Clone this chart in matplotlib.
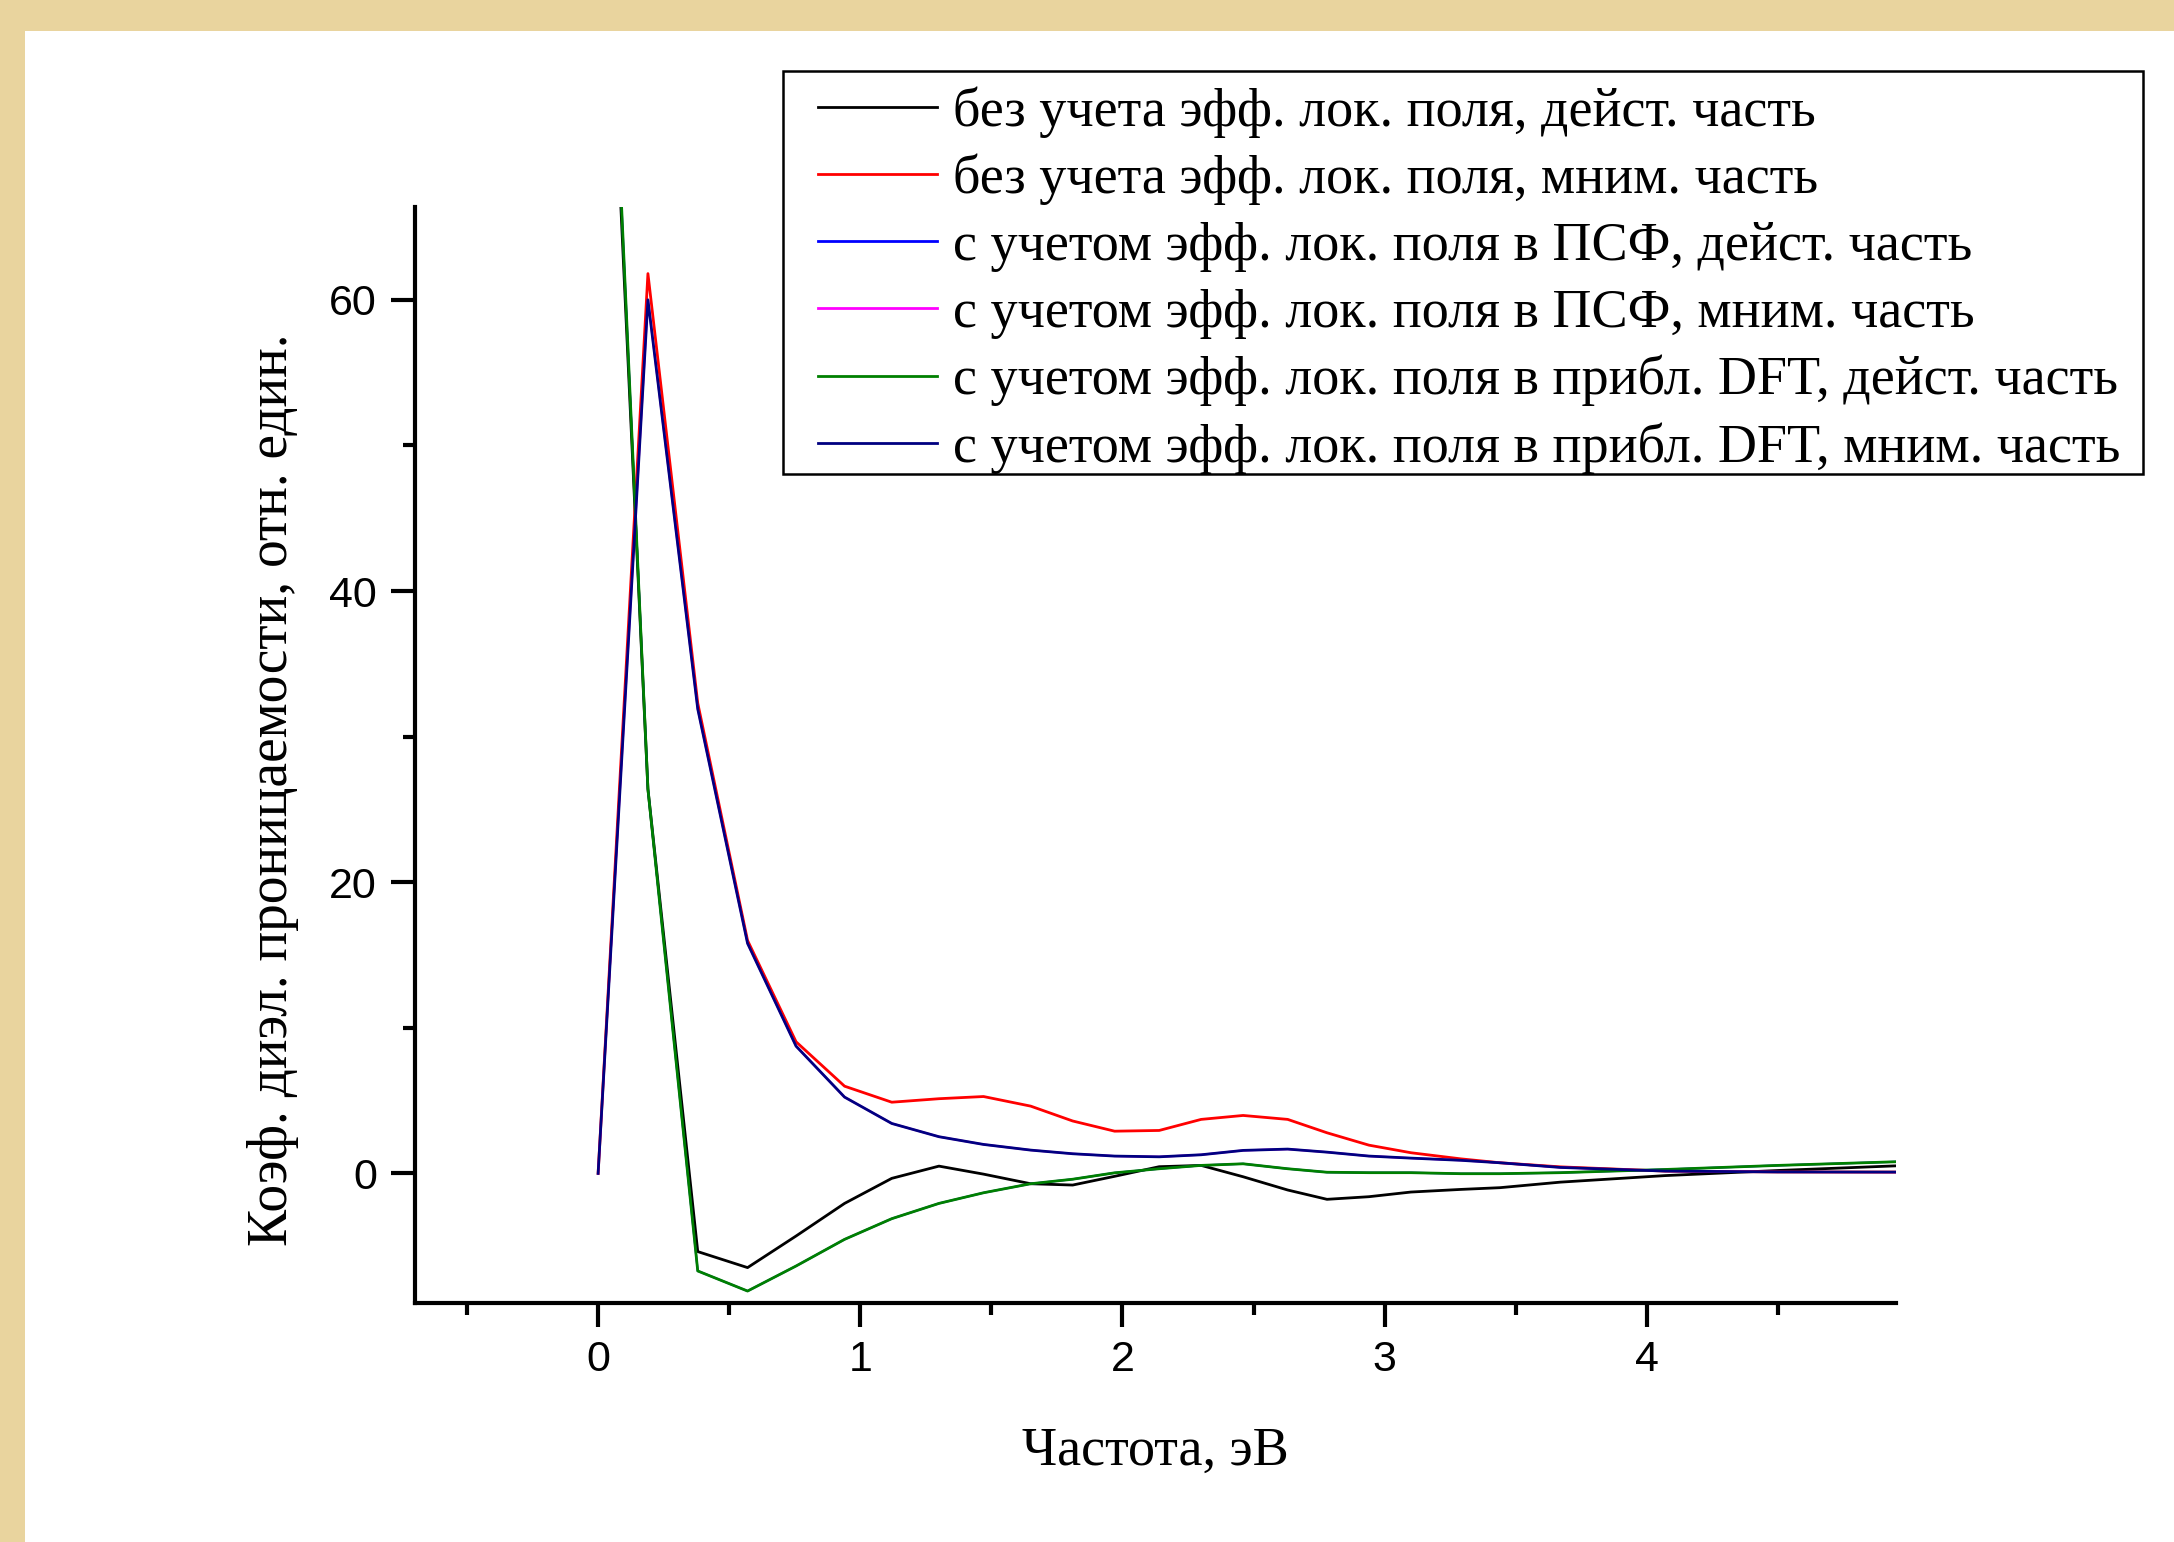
import matplotlib
matplotlib.use('Agg')
import matplotlib.pyplot as plt
from matplotlib.patches import Rectangle
from matplotlib.ticker import MultipleLocator

# frequency grid, eV
freq = [0, 0.19, 0.38, 0.57, 0.755, 0.94, 1.12, 1.30, 1.47, 1.65, 1.81, 1.97, 2.14,
        2.30, 2.46, 2.63, 2.78, 2.94, 3.10, 3.29, 3.44, 3.67, 4.07, 4.5, 4.95]

# without local field: real / imaginary
no_lf_real = [100, 26.4, -5.37, -6.47, -4.3, -2.06, -0.34, 0.50, -0.05, -0.71, -0.8, -0.2, 0.46,
              0.55, -0.23, -1.14, -1.78, -1.6, -1.28, -1.1, -0.98, -0.6, -0.15, 0.2, 0.52]
no_lf_imag = [0, 61.8, 32.3, 16.0, 9.04, 5.99, 4.89, 5.13, 5.28, 4.62, 3.6, 2.90, 2.95,
              3.71, 3.98, 3.71, 2.79, 1.94, 1.42, 1.0, 0.73, 0.45, 0.16, 0.1, 0.09]

# local field in DFT approximation: real / imaginary
dft_real = [102, 26.4, -6.70, -8.08, -6.36, -4.53, -3.11, -2.06, -1.33, -0.71, -0.4, 0.04, 0.32,
            0.55, 0.66, 0.32, 0.08, 0.05, 0.05, -0.02, -0.02, 0.05, 0.27, 0.55, 0.80]
dft_imag = [0, 60.0, 31.9, 15.8, 8.74, 5.24, 3.43, 2.52, 1.99, 1.60, 1.35, 1.19, 1.14,
            1.28, 1.58, 1.67, 1.46, 1.19, 1.05, 0.9, 0.73, 0.41, 0.16, 0.1, 0.09]

# PSF curves lie under the DFT ones on the picture
psf_real = dft_real
psf_imag = dft_imag

labels = [
    'без учета эфф. лок. поля, дейст. часть',
    'без учета эфф. лок. поля, мним. часть',
    'с учетом эфф. лок. поля в ПСФ, дейст. часть',
    'с учетом эфф. лок. поля в ПСФ, мним. часть',
    'с учетом эфф. лок. поля в прибл. DFT, дейст. часть',
    'с учетом эфф. лок. поля в прибл. DFT, мним. часть',
]
colors = ['#000000', '#FF0000', '#0000FF', '#FF00FF', '#008000', '#000080']
widths = [2.0, 2.0, 1.5, 1.5, 2.0, 2.0]
series = [no_lf_real, no_lf_imag, psf_real, psf_imag, dft_real, dft_imag]

W, H = 2174, 1542
fig = plt.figure(figsize=(W / 100, H / 100), dpi=100, facecolor='#E9D49E')
fig.patches.append(Rectangle((25 / W, 0), 1, 1 - 31 / H, transform=fig.transFigure,
                             facecolor='white', edgecolor='none', zorder=-10))

ax = fig.add_axes([0.1907, 0.155, 0.6814, 0.711])
ax.set_facecolor('none')

for ys, c, w, lab in zip(series, colors, widths, labels):
    ax.plot(freq, ys, color=c, lw=w, label=lab)

ax.set_xlim(-0.7, 4.95)
ax.set_ylim(-8.9, 66.4)
ax.xaxis.set_major_locator(MultipleLocator(1))
ax.xaxis.set_minor_locator(MultipleLocator(0.5))
ax.yaxis.set_major_locator(MultipleLocator(20))
ax.yaxis.set_minor_locator(MultipleLocator(10))

for s in ['top', 'right']:
    ax.spines[s].set_visible(False)
for s in ['left', 'bottom']:
    ax.spines[s].set_linewidth(3.0)

ax.tick_params(which='major', direction='out', length=17, width=3.0, pad=10)
ax.tick_params(which='minor', direction='out', length=8.5, width=3.0)
for t in ax.get_xticklabels() + ax.get_yticklabels():
    t.set_fontfamily('Liberation Sans')
    t.set_fontsize(31)

ax.set_xlabel('Частота, эВ', fontfamily='Liberation Serif', fontsize=39, labelpad=33)
ax.set_ylabel('Коэф. диэл. проницаемости, отн. един.', fontfamily='Liberation Serif',
              fontsize=40, va='center')
ax.yaxis.set_label_coords(-0.0956, 0.468)

# legend frame drawn separately so its padding matches the original
fig.patches.append(Rectangle((783 / W, 1 - 474 / H), 1360 / W, 403 / H,
                             transform=fig.transFigure, facecolor='white',
                             edgecolor='black', linewidth=1.8, zorder=5))
handles, _ = ax.get_legend_handles_labels()
leg = fig.legend(handles, labels, loc='upper left', bbox_to_anchor=(818 / W, 1 - 86 / H),
                 bbox_transform=fig.transFigure, borderaxespad=0, borderpad=0,
                 prop={'family': 'Liberation Serif', 'size': 39},
                 handlelength=2.2, handletextpad=0.3, labelspacing=0.3,
                 frameon=False)
leg.set_zorder(6)
for line in leg.get_lines():
    line.set_linewidth(2.0)

fig.savefig('out.png', dpi=100, facecolor=fig.get_facecolor())
